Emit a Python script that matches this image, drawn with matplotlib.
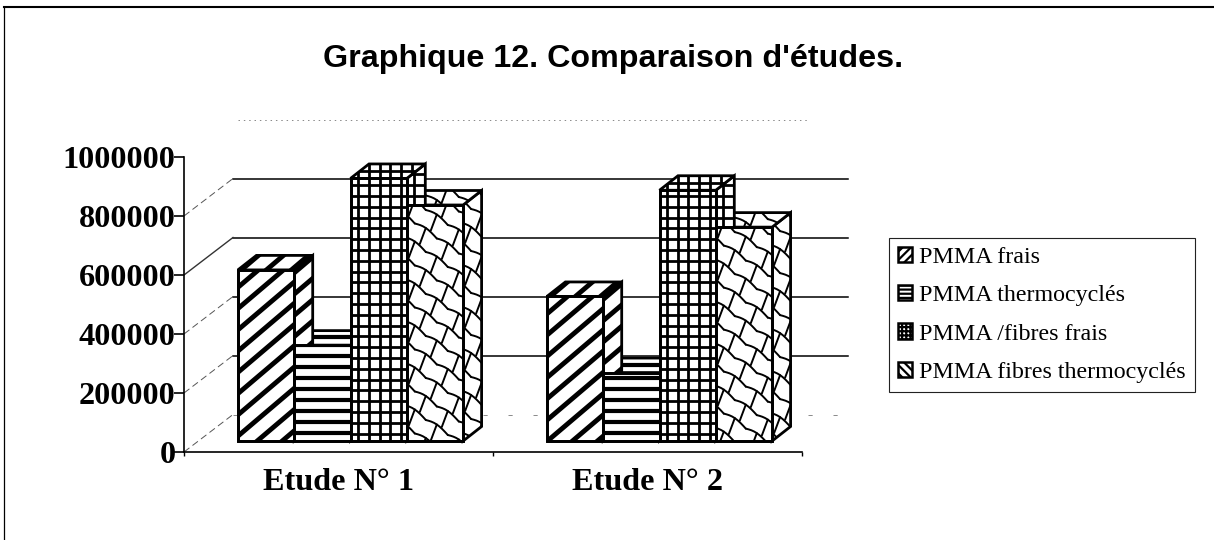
import numpy as np
import matplotlib
matplotlib.use("Agg")
import matplotlib.pyplot as plt
from matplotlib.lines import Line2D
from matplotlib.patches import Polygon, Patch
from matplotlib.transforms import Affine2D, IdentityTransform

title = "Graphique 12. Comparaison d'études."
categories = ["Etude N° 1", "Etude N° 2"]
series_names = ["PMMA frais", "PMMA thermocyclés", "PMMA /fibres frais", "PMMA fibres thermocyclés"]
pmma_frais = [580000, 490000]
pmma_thermo = [325000, 232000]
pmma_fibres_frais = [890000, 850000]
pmma_fibres_thermo = [800000, 725000]
series = [pmma_frais, pmma_thermo, pmma_fibres_frais, pmma_fibres_thermo]
y_ticks = [0, 200000, 400000, 600000, 800000, 1000000]

plt.rcParams["hatch.linewidth"] = 1.6
W, H = 1214, 540
fig = plt.figure(figsize=(W / 100, H / 100), dpi=100, facecolor="white")
X0, X1, YB, YT = 184, 802, 452, 157
ax = fig.add_axes([X0 / W, 1 - YB / H, (X1 - X0) / W, (YB - YT) / H])
ax.set_xlim(-0.5, 1.5)
ax.set_ylim(0, 1000000)
ax.patch.set_alpha(0)
for s in ("top", "right"):
    ax.spines[s].set_visible(False)
for s in ("left", "bottom"):
    ax.spines[s].set_linewidth(1.2)
ax.set_yticks(y_ticks)
ax.set_yticklabels([str(v) for v in y_ticks], family="Liberation Serif", weight="bold", fontsize=23.2)
ax.set_xticks([-0.5, 0.5, 1.5])
ax.set_xticklabels([])
ax.tick_params(axis="y", length=7, width=1.2, pad=-1)
ax.tick_params(axis="x", length=3, width=1.0, direction="out")
for i, c in enumerate(categories):
    ax.text(i, -0.105, c, transform=ax.get_xaxis_transform(), ha="center", va="center",
            family="Liberation Serif", weight="bold", fontsize=23.2)


def add_px(artist):
    ax.add_artist(artist)
    artist.set_clip_on(False)
    return artist


# back wall: gridlines and the links to the axis
WALL = (49, 37.5)
T = ax.transData
wall_tr = T + Affine2D().translate(*WALL)
solid_grid = (200000, 400000, 600000, 800000)
for v in y_ticks:
    a = T.transform((-0.5, v))
    b = wall_tr.transform((-0.5, v))
    if v == 1000000:
        add_px(Line2D([b[0] + 5, 810], [b[1], b[1]], transform=IdentityTransform(), zorder=1,
                      color="#888888", lw=0.7, ls=(0, (1.5, 4))))
        continue
    if v in solid_grid:
        st = dict(color="black", lw=1.1, ls="-")
    else:
        st = dict(color="#777777", lw=0.6, ls=(0, (5, 25)))
    add_px(Line2D([b[0], 848], [b[1], b[1]], transform=IdentityTransform(), zorder=1, **st))
    link = dict(color="#333333", lw=1.0, ls="-") if v == 600000 else \
        dict(color="#555555", lw=0.7, ls=(0, (7, 4)))
    add_px(Line2D([a[0], b[0]], [a[1], b[1]], transform=IdentityTransform(), zorder=1, **link))

# bars
DEPTH = (18.5, 14.5)
FRONT = (12, 11)
bw = 56.3 / 309


def clipped_lines(clip, lines, lw, z):
    for xs, ys in lines:
        ln = Line2D(xs, ys, color="black", lw=lw, transform=IdentityTransform(),
                    solid_capstyle="round", zorder=z)
        ax.add_artist(ln)
        ln.set_clip_path(clip)


def pattern(clip, pts, kind, z):
    pts = np.asarray(pts)
    xa, ya = pts.min(axis=0) - 25
    xb, yb = pts.max(axis=0) + 25
    if kind == 0:
        h = yb - ya
        lines = [([x, x + h / 0.85], [ya, yb]) for x in np.arange(xa - h / 0.85, xb, 25)]
        clipped_lines(clip, lines, 3.5, z)
    elif kind == 1:
        lines = [([xa, xb], [y, y]) for y in np.arange(ya, yb, 11)]
        clipped_lines(clip, lines, 3.0, z)
    elif kind == 2:
        p = 10.8
        lines = [([xa, xb], [y, y]) for y in np.arange(ya, yb, p)]
        lines += [([x, x], [ya, yb]) for x in np.arange(xa, xb, p)]
        clipped_lines(clip, lines, 2.0, z)
    else:
        ux, uy = 22.0, -15.0
        vy = -21.0
        t = np.linspace(0, 1, 9)
        lines = []
        n = int((xb - xa) / ux + (yb - ya) / 15) + 4
        for r in range(-n, n):
            for c in range(-n, n):
                px0 = xa + c * ux + (r % 2) * ux / 2
                py0 = yb + r * vy + c * uy + (r % 2) * uy / 2
                if not (xa - 30 < px0 < xb + 30 and ya - 30 < py0 < yb + 30):
                    continue
                lines.append((px0 + t * ux, py0 + t * uy + 3.0 * np.sin(t * np.pi)))
                mx, my = px0 + ux / 2, py0 + uy / 2 + 3.0
                lines.append(([mx, mx - 6], [my, my - 16]))
        clipped_lines(clip, lines, 1.4, z)


def draw_poly(pts, kind, z):
    poly = add_px(Polygon(pts, closed=True, facecolor="white", edgecolor="none",
                          transform=IdentityTransform(), zorder=z))
    pattern(poly, pts, kind, z)
    add_px(Polygon(pts, closed=True, facecolor="none", edgecolor="black", lw=2.0,
                   transform=IdentityTransform(), zorder=z))


front_tr = T + Affine2D().translate(*FRONT)
back_tr = T + Affine2D().translate(FRONT[0] + DEPTH[0], FRONT[1] + DEPTH[1])
z = 3
for g in range(len(categories)):
    left = g - 2 * bw
    for k in reversed(range(4)):
        v = series[k][g]
        xl, xr = left + k * bw, left + (k + 1) * bw
        side = [front_tr.transform((xr, 0)), front_tr.transform((xr, v)),
                back_tr.transform((xr, v)), back_tr.transform((xr, 0))]
        top = [front_tr.transform((xl, v)), front_tr.transform((xr, v)),
               back_tr.transform((xr, v)), back_tr.transform((xl, v))]
        draw_poly(side, k, z); z += 1
        draw_poly(top, k, z); z += 1
    for k in range(4):
        v = series[k][g]
        xl, xr = left + k * bw, left + (k + 1) * bw
        bar = ax.bar(xl + bw / 2, v, bw, transform=front_tr, facecolor="white",
                     edgecolor="black", lw=2.0, zorder=z, clip_on=False)[0]
        face = [front_tr.transform((xl, 0)), front_tr.transform((xr, v))]
        pattern(bar, face, k, z + 0.5)
        add_px(Polygon([front_tr.transform((xl, 0)), front_tr.transform((xr, 0)),
                        front_tr.transform((xr, v)), front_tr.transform((xl, v))],
                       closed=True, facecolor="none", edgecolor="black", lw=2.0,
                       transform=IdentityTransform(), zorder=z + 0.6))
        z += 1

# title and frame
fig.text(613 / W, 1 - 59 / H, title, ha="center", va="center", family="Liberation Sans",
         weight="bold", fontsize=23.2)
fig.add_artist(Line2D([4, W], [H - 7, H - 7], transform=IdentityTransform(), color="black", lw=1.5))
fig.add_artist(Line2D([4, 4], [H - 7, 0], transform=IdentityTransform(), color="black", lw=0.9))

# legend
hatches = ["////", "----", "++++", "\\\\\\\\"]
handles = [Patch(facecolor="white", edgecolor="black", hatch=h, lw=1.8) for h in hatches]
leg = fig.legend(handles, series_names, loc="upper left",
                 bbox_to_anchor=(889 / W, 1 - 238 / H), borderaxespad=0,
                 prop={"family": "Liberation Serif", "size": 17.3},
                 handlelength=0.6, handleheight=0.6, handletextpad=0.3, labelspacing=0.72,
                 borderpad=0.36, fancybox=False, edgecolor="#222222", framealpha=1)
leg.get_frame().set_linewidth(0.8)

fig.savefig("out.png", dpi=100)
